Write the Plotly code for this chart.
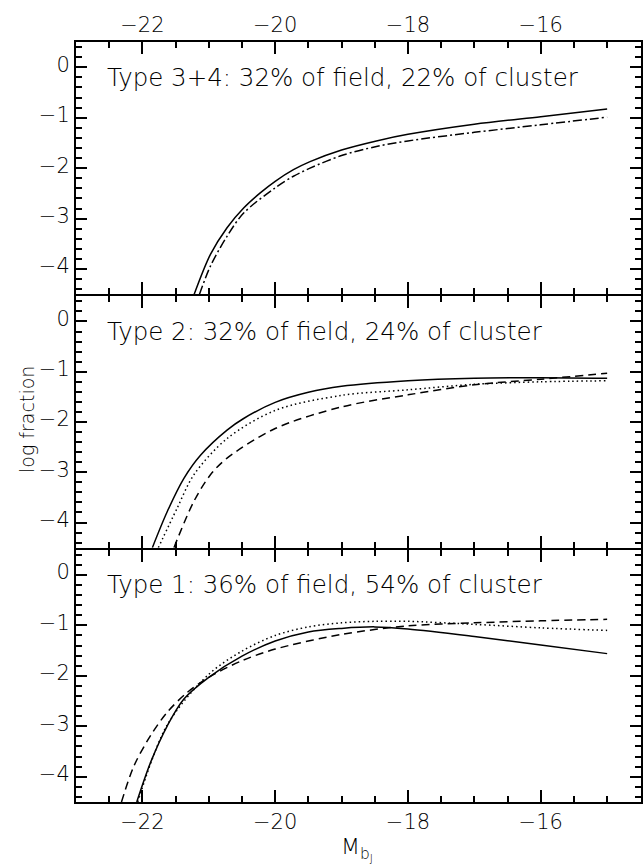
import plotly.graph_objects as go

# ---------------- data ----------------
# Panel A: Type 3+4
t34_solid_x = [-21.22, -20.975, -20.725, -20.475, -20.225, -20.0, -19.725, -19.475, -19.0, -18.475, -18.0, -17.0, -16.0, -15.0]
t34_solid_y = [-4.5, -3.71, -3.18, -2.79, -2.49, -2.26, -2.03, -1.87, -1.64, -1.46, -1.33, -1.13, -0.98, -0.83]
t34_dd_x = [-21.14, -20.975, -20.725, -20.475, -20.0, -19.725, -19.475, -19.0, -18.475, -18.0, -17.0, -16.0, -15.0]
t34_dd_y = [-4.5, -3.94, -3.35, -2.89, -2.39, -2.16, -2.0, -1.75, -1.57, -1.46, -1.29, -1.14, -0.99]

# Panel B: Type 2
t2_solid_x = [-21.85, -21.625, -21.375, -21.125, -20.725, -20.475, -20.0, -19.5, -19.0, -18.0, -17.0, -16.0, -15.0]
t2_solid_y = [-4.5, -3.78, -3.12, -2.66, -2.16, -1.93, -1.61, -1.41, -1.29, -1.18, -1.13, -1.12, -1.13]
t2_dot_x = [-21.76, -21.475, -21.225, -20.725, -20.0, -19.0, -18.0, -17.0, -16.0, -15.0]
t2_dot_y = [-4.5, -3.71, -3.05, -2.33, -1.77, -1.47, -1.36, -1.25, -1.20, -1.18]
t2_dash_x = [-21.525, -21.225, -20.975, -20.725, -20.0, -19.0, -18.0, -17.0, -16.0, -15.0]
t2_dash_y = [-4.5, -3.58, -3.05, -2.72, -2.13, -1.70, -1.46, -1.26, -1.15, -1.03]

# Panel C: Type 1
t1_solid_x = [-22.085, -21.875, -21.625, -21.375, -21.0, -20.5, -20.0, -19.5, -19.0, -18.5, -18.0, -17.0, -16.0, -15.0]
t1_solid_y = [-4.5, -3.71, -2.99, -2.46, -2.03, -1.61, -1.31, -1.13, -1.06, -1.03, -1.07, -1.22, -1.39, -1.56]
t1_dot_x = [-22.07, -21.625, -21.0, -20.5, -20.0, -19.5, -19.0, -18.5, -18.0, -17.0, -16.0, -15.0]
t1_dot_y = [-4.5, -2.97, -1.97, -1.51, -1.20, -1.03, -0.95, -0.92, -0.92, -0.98, -1.05, -1.10]
t1_dash_x = [-22.315, -22.125, -21.875, -21.625, -21.325, -21.0, -20.5, -20.0, -19.0, -18.0, -17.0, -16.0, -15.0]
t1_dash_y = [-4.5, -3.78, -3.18, -2.72, -2.33, -2.03, -1.70, -1.47, -1.18, -1.01, -0.95, -0.91, -0.88]

panel_labels = [
    "Type 3+4: 32% of field, 22% of cluster",
    "Type 2: 32% of field, 24% of cluster",
    "Type 1: 36% of field, 54% of cluster",
]
x_tick0, x_dtick, x_minor = -22, 2, 0.5
y_tick0, y_dtick, y_minor = 0, 1, 0.2

# ---------------- figure ----------------
FONT = "DejaVu Sans ExtraLight, DejaVu Sans"
TXT = "black"
fig = go.Figure()

DASHES = {
    "solid": "solid",
    "dashdot": "9px,3px,2px,3px",
    "dot": "1.5px,3px",
    "dash": "8px,5px",
}

def add(x, y, style, ax):
    fig.add_trace(go.Scatter(
        x=x, y=y, mode="lines",
        xaxis=ax[0], yaxis=ax[1],
        line=dict(color="black", width=1.5, dash=DASHES[style], shape="spline", smoothing=0.9),
        showlegend=False, hoverinfo="skip",
    ))

# top panel -> x3/y3, middle -> x2/y2, bottom -> x/y
add(t34_solid_x, t34_solid_y, "solid", ("x3", "y3"))
add(t34_dd_x, t34_dd_y, "dashdot", ("x3", "y3"))
add(t2_solid_x, t2_solid_y, "solid", ("x2", "y2"))
add(t2_dot_x, t2_dot_y, "dot", ("x2", "y2"))
add(t2_dash_x, t2_dash_y, "dash", ("x2", "y2"))
add(t1_solid_x, t1_solid_y, "solid", ("x", "y"))
add(t1_dot_x, t1_dot_y, "dot", ("x", "y"))
add(t1_dash_x, t1_dash_y, "dash", ("x", "y"))

tickfont = dict(family=FONT, size=21, color=TXT, weight=200)

def xaxis(anchor, side, labels):
    return dict(
        range=[-23, -14.49], anchor=anchor, side=side, showticklabels=labels,
        tickmode="linear", tick0=x_tick0, dtick=x_dtick,
        showline=True, linewidth=2, linecolor="black", mirror="ticks",
        ticks="inside", ticklen=12, tickwidth=1.5, tickcolor="black",
        minor=dict(ticks="inside", ticklen=6, dtick=x_minor, tickwidth=1.5, tickcolor="black", showgrid=False),
        showgrid=False, zeroline=False, tickfont=tickfont,
    )

def yaxis(anchor, domain):
    return dict(
        range=[-4.5, 0.5], anchor=anchor, domain=domain,
        tickmode="linear", tick0=y_tick0, dtick=y_dtick,
        showline=True, linewidth=2, linecolor="black", mirror="ticks",
        ticks="inside", ticklen=11, tickwidth=1.5, tickcolor="black",
        minor=dict(ticks="inside", ticklen=6, dtick=y_minor, tickwidth=1.5, tickcolor="black", showgrid=False),
        showgrid=False, zeroline=False, tickfont=tickfont, ticklabelshift=-3,
    )

annotations = []
for lbl, (xr, yr) in zip(panel_labels, [("x3", "y3"), ("x2", "y2"), ("x", "y")]):
    annotations.append(dict(
        text=lbl, x=-22.57, y=-0.2, xref=xr, yref=yr, xanchor="left", yanchor="middle",
        showarrow=False, font=dict(family=FONT, size=24.5, color=TXT, weight=200),
    ))
annotations.append(dict(
    text="log fraction", x=-0.088, y=0.503, xref="paper", yref="paper",
    xanchor="center", yanchor="middle", textangle=-90, showarrow=False,
    font=dict(family=FONT, size=19, color=TXT, weight=200),
))
annotations.append(dict(
    text="M<sub>b<sub>J</sub></sub>", x=0.497, y=-0.062, xref="paper", yref="paper",
    xanchor="center", yanchor="middle", showarrow=False,
    font=dict(family=FONT, size=22, color=TXT, weight=200),
))

e = 1.0 / 760.0  # one pixel in paper units: leave a 2px gap so adjoining frame lines coincide
fig.update_layout(
    width=643, height=866,
    margin=dict(l=76, r=0, t=42, b=64),
    paper_bgcolor="white", plot_bgcolor="white",
    xaxis=xaxis("y", "bottom", True),
    xaxis2=dict(xaxis("y2", "bottom", False), matches="x"),
    xaxis3=dict(xaxis("y3", "top", True), matches="x"),
    yaxis=yaxis("x", [0, 1 / 3 - e]),
    yaxis2=yaxis("x2", [1 / 3 + e, 2 / 3 - e]),
    yaxis3=yaxis("x3", [2 / 3 + e, 1]),
    annotations=annotations,
    showlegend=False,
)

fig.write_html("out.html")
